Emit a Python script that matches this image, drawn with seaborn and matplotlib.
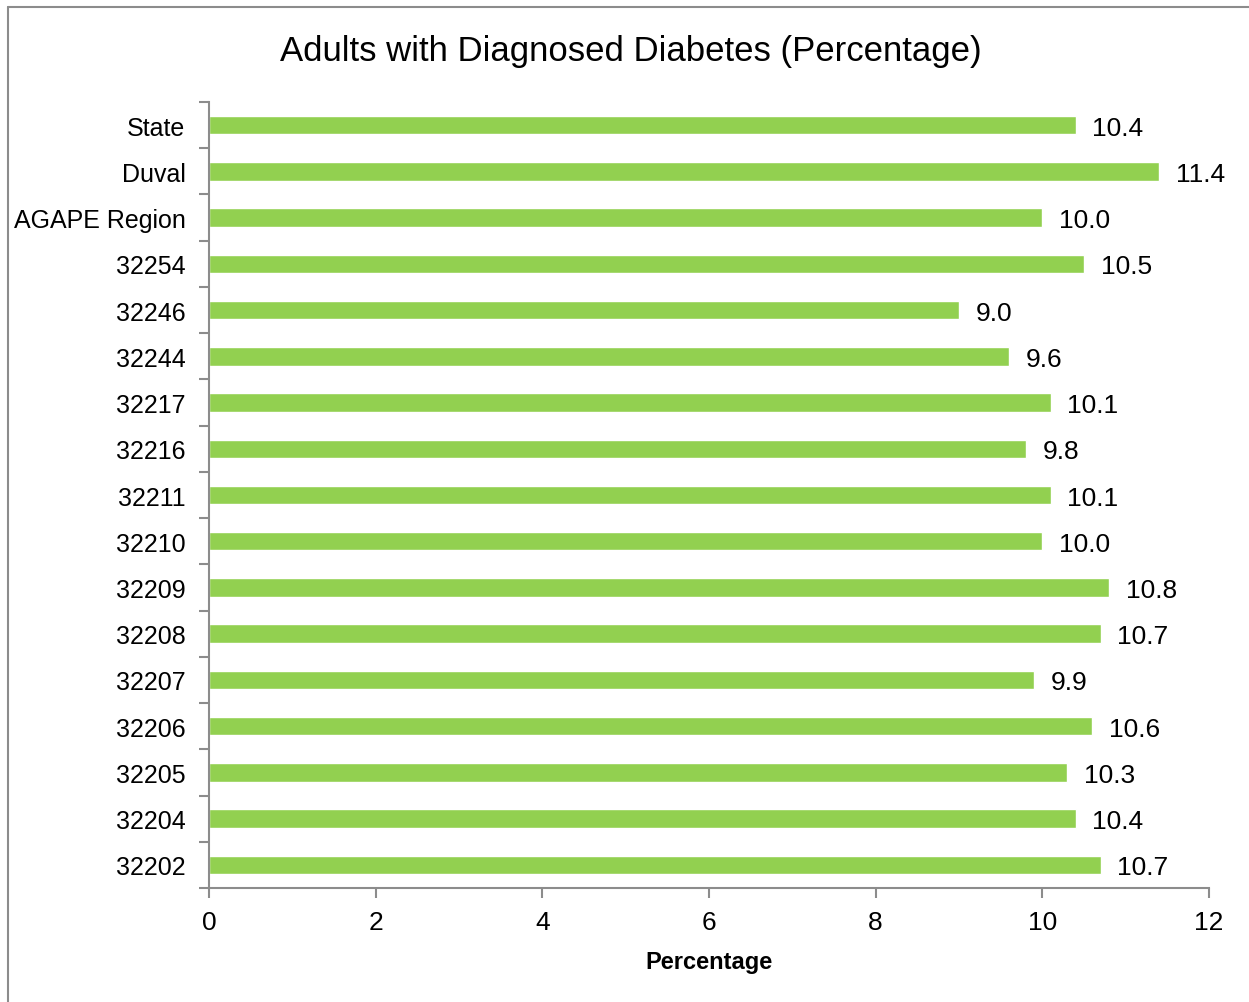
import matplotlib
matplotlib.use("Agg")
import matplotlib.pyplot as plt
from matplotlib.lines import Line2D
from matplotlib.ticker import FixedLocator
import seaborn as sns
import pandas as pd
import numpy as np

areas = ["State", "Duval", "AGAPE Region", "32254", "32246", "32244", "32217",
         "32216", "32211", "32210", "32209", "32208", "32207", "32206",
         "32205", "32204", "32202"]
pct = [10.4, 11.4, 10.0, 10.5, 9.0, 9.6, 10.1, 9.8, 10.1, 10.0, 10.8, 10.7,
       9.9, 10.6, 10.3, 10.4, 10.7]
x_ticks = [0, 2, 4, 6, 8, 10, 12]

sns.set_theme(style="white")
plt.rcParams["font.family"] = ["Liberation Sans", "DejaVu Sans"]

df = pd.DataFrame({"area": areas, "pct": pct})

fig = plt.figure(figsize=(12.49, 10.03), dpi=100)
ax = fig.add_axes([209 / 1249, 1 - 889 / 1003, 1000 / 1249, 786 / 1003])

sns.barplot(data=df, x="pct", y="area", order=areas, orient="h",
            color="#92D050", saturation=1, width=0.4, ax=ax)

ax.set_xlim(0, 12)
ax.set_ylim(len(areas) - 0.5, -0.5)
ax.set_xticks(x_ticks)
ax.set_xticklabels([str(t) for t in x_ticks])

# value labels at bar ends
for i, v in enumerate(pct):
    ax.text(v + 0.2, i, f"{v:.1f}", va="center_baseline", ha="left",
            fontsize=19, color="black")

grey = "#8c8c8c"
for side in ["top", "right"]:
    ax.spines[side].set_visible(False)
for side in ["left", "bottom"]:
    ax.spines[side].set_visible(True)
    ax.spines[side].set_color(grey)
    ax.spines[side].set_linewidth(1.5)

# category ticks sit between bars
ax.yaxis.set_minor_locator(FixedLocator(np.arange(-0.5, len(areas), 1.0)))
ax.tick_params(axis="y", which="major", length=0, pad=17, labelsize=18,
               labelcolor="black")
ax.tick_params(axis="y", which="minor", left=True, length=7, width=1.5,
               color=grey)
ax.tick_params(axis="x", which="major", bottom=True, length=7, width=1.5,
               color=grey, pad=9, labelsize=19, labelcolor="black")

ax.set_ylabel("")
ax.set_xlabel("Percentage", fontsize=17, fontweight="semibold", labelpad=11,
              color="black")

fig.text(631 / 1249, 1 - 51 / 1003, "Adults with Diagnosed Diabetes (Percentage)",
         ha="center", va="center", fontsize=25, color="black")

# chart area border (top and left edges)
fig.add_artist(Line2D([8 / 1249, 1.0], [1 - 8 / 1003, 1 - 8 / 1003],
                      transform=fig.transFigure, color="#8c8c8c", lw=1.5))
fig.add_artist(Line2D([8 / 1249, 8 / 1249], [0.0, 1 - 8 / 1003],
                      transform=fig.transFigure, color="#8c8c8c", lw=1.5))

fig.savefig("out.png", dpi=100)
